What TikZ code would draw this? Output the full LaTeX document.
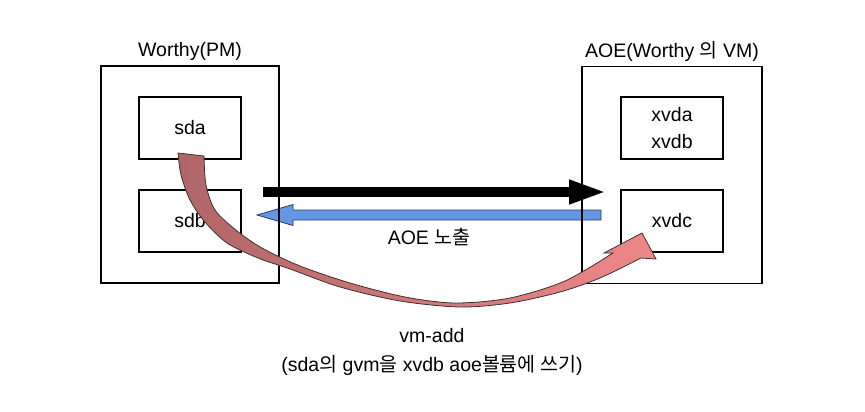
\documentclass[tikz,border=0pt]{standalone}
\usepackage{fontspec}
\setmainfont{Liberation Sans}
\newfontfamily\kr{Noto Sans CJK KR}
\usetikzlibrary{positioning,calc,arrows.meta}
\definecolor{ribbondark}{HTML}{B06668}
\definecolor{ribbonlight}{HTML}{EE8888}
\definecolor{ribbonedge}{HTML}{3C3232}
\definecolor{exposeblue}{HTML}{6496E6}
\definecolor{exposeedge}{HTML}{283C64}
\begin{document}
\begin{tikzpicture}[x=1pt,y=-1pt,
    font=\fontsize{19.5}{23}\selectfont,
    host/.style={draw, line width=1.1pt, inner sep=0pt, minimum width=178pt, minimum height=217pt},
    disk/.style={draw, line width=1.1pt, inner sep=0pt, minimum width=102pt, minimum height=62pt, align=center}]
    \useasboundingbox (0,0) rectangle (865,412);

    \coordinate (pm-c) at (190,174.5);
    \coordinate (vm-c) at (672,175);
    \coordinate (sda-c) at (190,128);
    \coordinate (sdb-c) at (190,221);

    \coordinate (exp-from) at ($(sdb-c)+(73,-29)$);
    \coordinate (exp-to) at ($(sdb-c)+(417,-29)$);
    \draw[line width=10pt, -{Triangle[length=38pt,width=22pt]}] (exp-from) -- (exp-to);

    \coordinate (ret-from) at ($(sdb-c)+(411,-6)$);
    \coordinate (ret-to) at ($(sdb-c)+(67,-6)$);
    \draw[exposeedge, fill=exposeblue, line width=0.8pt, line join=miter]
        (ret-to) -- ++(36,-10.5) -- ++(0,5.5) -- ($(ret-from)+(0,-5)$)
        -- ($(ret-from)+(0,5)$) -- ($(ret-to)+(36,5)$) -- ++(0,5.5) -- cycle;
    \node (exp-label) at ($(ret-from)!0.5!(ret-to)+(0,22)$) {AOE {\kr 노출}};

    \node[host] (pm) at (pm-c) {};
    \node[host, minimum width=180pt] (vm) at (vm-c) {};
    \node[above=1pt of pm] (pm-title) {Worthy(PM)};
    \node[above=1pt of vm] (vm-title) {AOE(Worthy {\kr 의} VM)};

    \node[disk] (sda) at (sda-c) {sda};
    \node[disk] (sdb) at (sdb-c) {sdb};
    \node[disk, font=\fontsize{19.5}{27}\selectfont] (xvdab) at (672,128) {xvda\\xvdb};
    \node[disk] (xvdc) at (672,221) {xvdc};

    \draw[draw=ribbonedge, line width=0.8pt, left color=ribbondark, right color=ribbonlight]
        (178,153) -- (204,156)
        -- plot[smooth] coordinates {(204,156) (206,185) (215,210) (237,231) (262,248) (300,266) (350,283) (405,297) (455,303) (510,298) (565,281) (613,253)}
        -- (604,253) -- (642,233) -- (656,259) -- (641,258)
        -- plot[smooth] coordinates {(641,258) (600,278) (560,292) (510,303) (460,307) (400,301) (340,287) (290,269) (258,258) (227,243) (205,222) (190,200) (181,175) (178,153)}
        -- cycle;

    \node[align=center, font=\fontsize{19.5}{29}\selectfont] (copy-label) at (432,352)
        {vm-add\\(sda{\kr 의} gvm{\kr 을} xvdb aoe{\kr 볼륨에 쓰기})};
\end{tikzpicture}
\end{document}
